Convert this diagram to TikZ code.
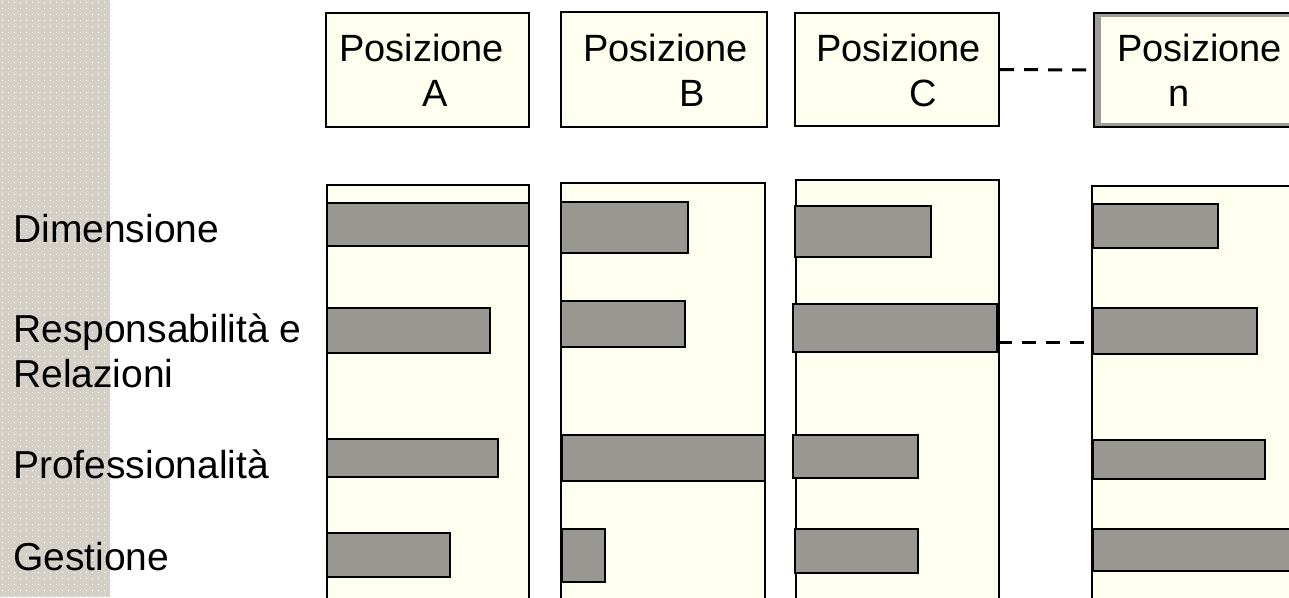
\documentclass[tikz,border=0pt]{standalone}
\usepackage{fontspec}
\setmainfont{Liberation Sans}
\usetikzlibrary{fit}
\definecolor{cream}{RGB}{255,255,240}
\definecolor{bargray}{RGB}{154,150,146}
\definecolor{stripe}{RGB}{212,208,200}
\definecolor{framegray}{RGB}{160,156,152}
\tikzset{
  headbox/.style={draw=black, fill=cream, line width=2pt, inner sep=0pt},
  panel/.style={draw=black, fill=cream, line width=1.6pt, inner sep=0pt},
  barst/.style={draw=black, fill=bargray, line width=1.6pt, inner sep=0pt},
  headtxt/.style={anchor=base west, align=left, inner sep=0pt, font=\fontsize{38}{45}\selectfont},
  rowtxt/.style={anchor=base west, align=left, inner sep=0pt, font=\fontsize{39}{45}\selectfont},
  dashconn/.style={draw=black, line width=3pt, dash pattern=on 14pt off 10pt}
}
\begin{document}
\begin{tikzpicture}[x=1pt,y=-1pt]
\useasboundingbox (0,0) rectangle (1289,597);
\clip (0,0) rectangle (1289,597);
\fill[white] (0,0) rectangle (1289,597);
\fill[stripe] (0,0) rectangle (110,597);
\foreach \yy in {2,8,...,596} {
  \foreach \xx in {2,8,...,108} {
    \fill[white] (\xx,\yy) rectangle ++(1.2,1.2);
  }
}
% header boxes
\node[headbox, fit={(326,13) (529,127)}] (boxA) {};
\node[headbox, fit={(561,12) (767,127)}] (boxB) {};
\node[headbox, fit={(795,13) (999,126)}] (boxC) {};
\node[draw=black, fill=framegray, line width=2pt, inner sep=0pt, fit={(1094,13) (1300,127)}] (boxN) {};
\fill[cream] (1101,17) rectangle (1300,123);
\node[headtxt] (tA) at (339,106) {Posizione\\\hspace*{83pt}A};
\node[headtxt] (tB) at (583,106) {Posizione\\\hspace*{96pt}B};
\node[headtxt] (tC) at (816,106) {Posizione\\\hspace*{93pt}C};
\node[headtxt] (tN) at (1117,106) {Posizione\\\hspace*{51pt}n};
\draw[dashconn, shorten >=6pt] (boxC.east) -- (boxN.west);
% panels
\node[panel, fit={(327,185) (529,610)}] (panA) {};
\node[panel, fit={(561,183) (765,610)}] (panB) {};
\node[panel, fit={(796,180) (999,610)}] (panC) {};
\node[panel, fit={(1092,186) (1300,610)}] (panN) {};
% row 1
\node[barst, fit={(327,203) (529,246)}] (barA1) {};
\node[barst, fit={(561,202) (688,253)}] (barB1) {};
\node[barst, fit={(795,206) (931,257)}] (barC1) {};
\node[barst, fit={(1093,204) (1218,248)}] (barN1) {};
% row 2
\node[barst, fit={(327,308) (490,353)}] (barA2) {};
\node[barst, fit={(561,301) (685,347)}] (barB2) {};
\node[barst, fit={(793,304) (997,352)}] (barC2) {};
\node[barst, fit={(1093,308) (1257,354)}] (barN2) {};
% row 3
\node[barst, fit={(327,439) (498,477)}] (barA3) {};
\node[barst, fit={(562,435) (765,481)}] (barB3) {};
\node[barst, fit={(793,435) (918,478)}] (barC3) {};
\node[barst, fit={(1093,440) (1265,479)}] (barN3) {};
% row 4
\node[barst, fit={(327,533) (450,577)}] (barA4) {};
\node[barst, fit={(562,529) (605,582)}] (barB4) {};
\node[barst, fit={(795,529) (918,573)}] (barC4) {};
\node[barst, fit={(1093,529) (1300,571)}] (barN4) {};
\draw[dashconn, shorten >=7pt] ([yshift=-14pt]barC2.east) -- ([yshift=-14pt]barC2.east -| panN.west);
% row labels
\node[rowtxt] (l1) at (13,242) {Dimensione};
\node[rowtxt] (l2) at (13,387) {Responsabilità e\\Relazioni};
\node[rowtxt] (l3) at (13,478) {Professionalità};
\node[rowtxt] (l4) at (13,570) {Gestione};
\end{tikzpicture}
\end{document}
